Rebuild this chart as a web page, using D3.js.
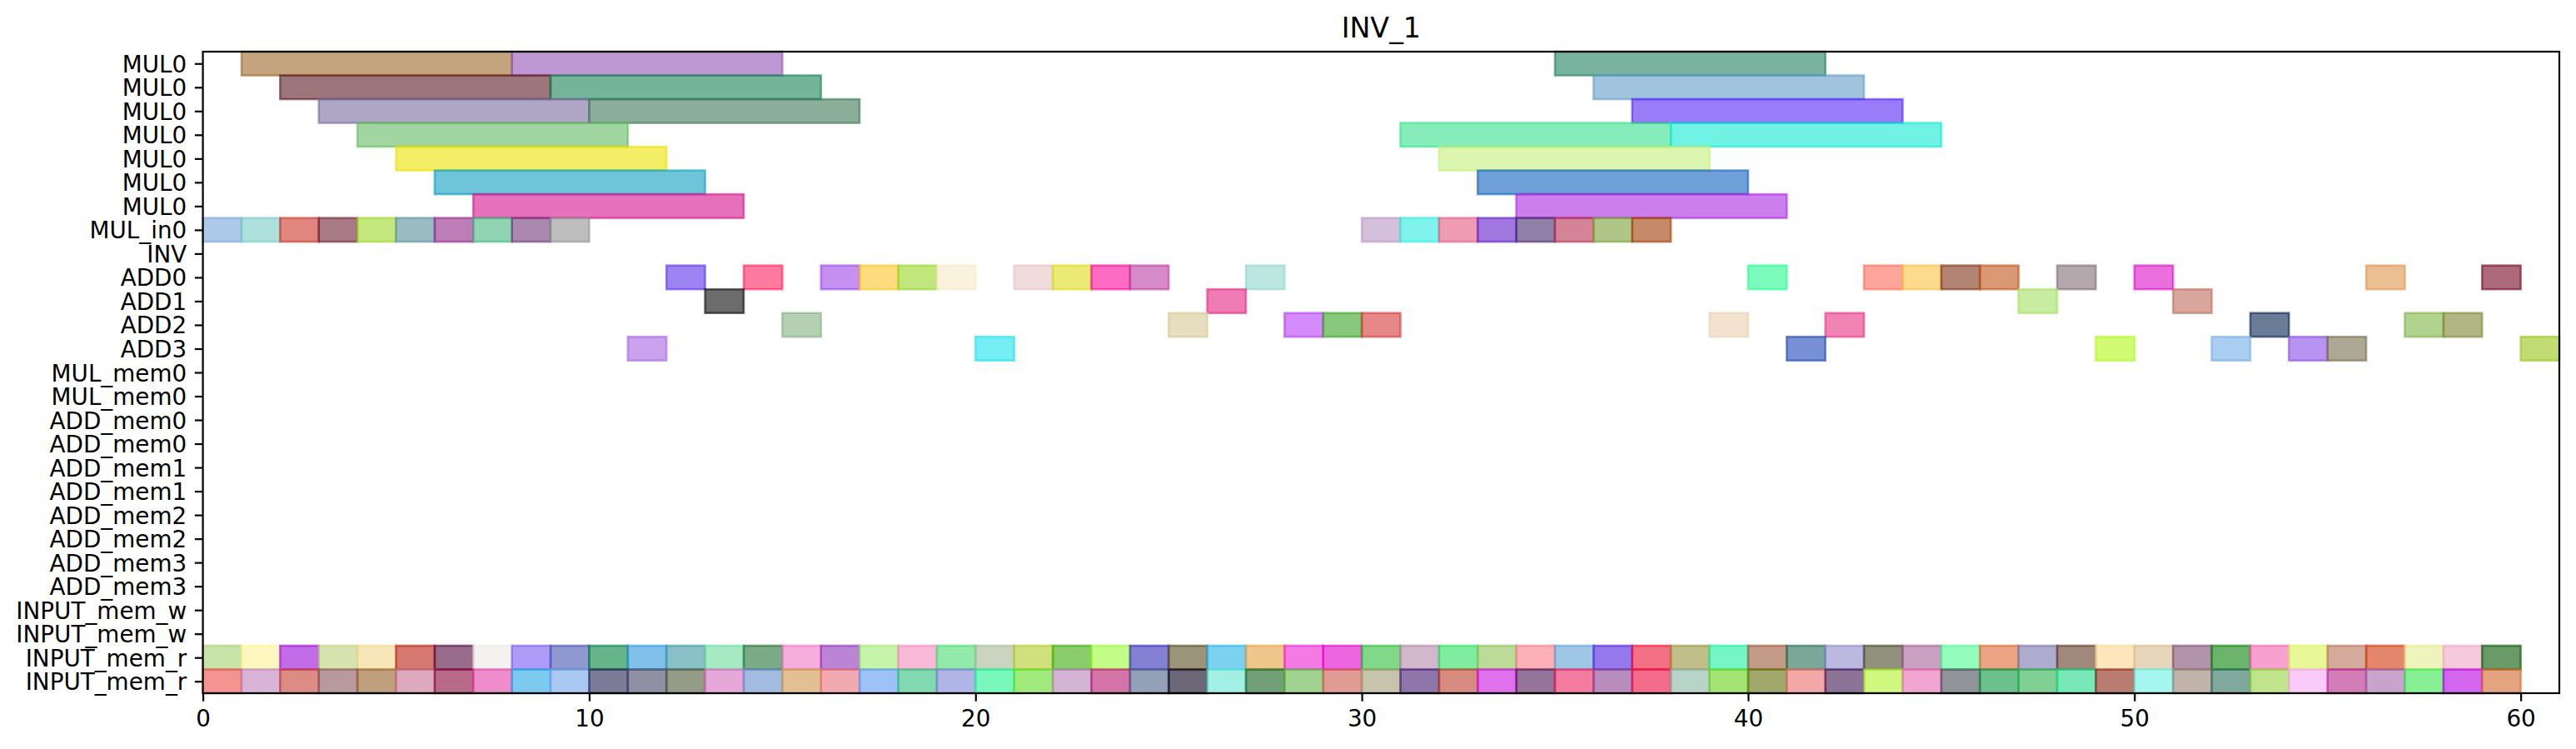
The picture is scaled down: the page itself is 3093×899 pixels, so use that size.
<!DOCTYPE html>
<html>
<head>
<meta charset="utf-8">
<script src="https://cdn.jsdelivr.net/npm/d3@7"></script>
<style>
  body { margin: 0; background: #fff; }
  svg { display: block; font-family: "DejaVu Sans", sans-serif; }
</style>
</head>
<body>
<div id="chart"></div>
<script>
// row labels, top to bottom
var rowLabels = ["MUL0", "MUL0", "MUL0", "MUL0", "MUL0", "MUL0", "MUL0", "MUL_in0", "INV",
  "ADD0", "ADD1", "ADD2", "ADD3", "MUL_mem0", "MUL_mem0", "ADD_mem0", "ADD_mem0",
  "ADD_mem1", "ADD_mem1", "ADD_mem2", "ADD_mem2", "ADD_mem3", "ADD_mem3",
  "INPUT_mem_w", "INPUT_mem_w", "INPUT_mem_r", "INPUT_mem_r"];

var xTicks = [0, 10, 20, 30, 40, 50, 60];

// MUL0 rows: every op lasts 7 steps
var mulLength = 7;
var mulStarts = [[1, 8, 35], [2, 9, 36], [3, 10, 37], [4, 31, 38], [5, 32], [6, 33], [7, 34]];
var mulColors = [
  ["#c4a47e", "#be98d2", "#7ab2a0"],
  ["#9c767a", "#74b498", "#a0c4de"],
  ["#aea6c4", "#8aae9a", "#987cf8"],
  ["#a2d6a0", "#86ecba", "#70f2e4"],
  ["#f4ee64", "#dcf6b0"],
  ["#6ec4d8", "#70a0d8"],
  ["#e670ba", "#cc7eec"]
];

// single step rows
var mulInStarts = [0, 1, 2, 3, 4, 5, 6, 7, 8, 9, 30, 31, 32, 33, 34, 35, 36, 37];
var mulInColors = ["#aecaea", "#aee0dc", "#e0867e", "#a87a86", "#c4e87e", "#9cbcc4", "#be7eb8", "#90d4b4", "#aa88b0", "#bebebe",
  "#d4c0da", "#80f4ec", "#f09cb4", "#a078e0", "#9080a8", "#d48496", "#b0c688", "#c68a68"];

var add0Starts = [12, 14, 16, 17, 18, 19, 21, 22, 23, 24, 27, 40, 43, 44, 45, 46, 48, 50, 56, 59];
var add0Colors = ["#9e84f2", "#fe7aa0", "#c690f2", "#fcdc7c", "#c0e67c", "#faf2dc", "#f0dcdc", "#eaea74", "#fc6cc4", "#d68ac8",
  "#bce6e0", "#7cfcbc", "#fea69c", "#fcda8e", "#b28474", "#da9874", "#b4a8ac", "#ea6ede", "#ecbe94", "#ac6a7a"];

var add1Starts = [13, 26, 47, 51];
var add1Colors = ["#6c6c6c", "#f07cb4", "#c8eca0", "#d8a69c"];

var add2Starts = [15, 25, 28, 29, 30, 39, 42, 53, 57, 58];
var add2Colors = ["#b6d0b4", "#e6debe", "#d48af8", "#88c87c", "#e68888", "#f4e2d0", "#f084b4", "#6a7c96", "#b2d290", "#b2b684"];

var add3Starts = [11, 20, 41, 49, 52, 54, 55, 60];
var add3Colors = ["#caa2ee", "#74eef4", "#7890d4", "#d0fc74", "#aacef2", "#b894f0", "#aca894", "#c2dc74"];

var inputReadStarts = [0, 1, 2, 3, 4, 5, 6, 7, 8, 9, 10, 11, 12, 13, 14, 15, 16, 17, 18, 19,
  20, 21, 22, 23, 24, 25, 26, 27, 28, 29, 30, 31, 32, 33, 34, 35, 36, 37, 38, 39,
  40, 41, 42, 43, 44, 45, 46, 47, 48, 49, 50, 51, 52, 53, 54, 55, 56, 57, 58, 59];
var inputReadAColors = ["#c8e4a8", "#fef8c0", "#c46ce8", "#d8e4b0", "#f6e6b8", "#d47870", "#9a6c8c", "#f4f2ee", "#ae9cf6", "#9098d0",
  "#66b48a", "#80c0ea", "#8ac0c8", "#a6eac4", "#7aaa86", "#f6aedc", "#bc84d4", "#c6f4aa", "#f8b8d8", "#92eaaa",
  "#cad4c0", "#d0e07c", "#88cc6c", "#c4fc88", "#8480d4", "#9c9478", "#7cd0f0", "#eec68c", "#f47ae4", "#ec64e0",
  "#80d888", "#d2b8cc", "#80eca0", "#bcda98", "#fcb0b8", "#a0c6e6", "#9678ec", "#f47084", "#c2be8a", "#76f6c6",
  "#c49a88", "#7aa898", "#bcb8e0", "#90907c", "#c8a0c0", "#94fcbc", "#eaa484", "#aeacce", "#a0887c", "#fee6bc",
  "#e6d6bc", "#b294aa", "#6cb46c", "#f8a0d0", "#e8f898", "#d4aa9c", "#e4866c", "#eef4bc", "#f6cadc", "#6a9a68"];
var inputReadBColors = ["#f49490", "#d8b4d8", "#dc8c84", "#b89a9c", "#bea07e", "#dcaabc", "#b86a88", "#ee8ccc", "#7ccaf0", "#aac8f2",
  "#7c7c98", "#9090a4", "#949c88", "#e6a8d8", "#a2bce0", "#e2c094", "#f0aab0", "#9cc2f8", "#82d8b0", "#b0b4e6",
  "#78f8bc", "#a0ea7c", "#d4b4d4", "#d474a8", "#94a0b8", "#6c6878", "#a2f0e4", "#72a076", "#a0d290", "#e09c94",
  "#c6c4ac", "#8e76aa", "#d88c80", "#e070ec", "#947498", "#f47ca0", "#b88cbc", "#f46c8c", "#b8d4c8", "#a4e474",
  "#a0a86c", "#f2a8a4", "#8c7498", "#d0f880", "#f0a6d0", "#909498", "#6cc08c", "#80d094", "#78e8b8", "#b87c70",
  "#a6f6f0", "#c0b4aa", "#80a89c", "#c0e48c", "#facaf8", "#d27cb8", "#c8a4cc", "#88f094", "#d45ef0", "#e4a480"];

// ---- layout (dpi 200 look) ----
var width = 3093, height = 899;
var margin = {left: 243.6, right: 3073, top: 62, bottom: 832};
var alpha = 0.6;
var fontPx = 27.8;

// collect bars: {row, start, len, color}
var bars = [];
function addRow(row, starts, colors, len) {
  starts.forEach(function(s, i) {
    bars.push({row: row, start: s, len: len, color: colors[i]});
  });
}
mulStarts.forEach(function(st, r) { addRow(r, st, mulColors[r], mulLength); });
addRow(7, mulInStarts, mulInColors, 1);
addRow(9, add0Starts, add0Colors, 1);
addRow(10, add1Starts, add1Colors, 1);
addRow(11, add2Starts, add2Colors, 1);
addRow(12, add3Starts, add3Colors, 1);
addRow(25, inputReadStarts, inputReadAColors, 1);
addRow(26, inputReadStarts, inputReadBColors, 1);

function baseColor(hex) {
  var c = d3.rgb(hex);
  function un(v) { return Math.max(0, Math.min(255, Math.round((v - 255 * (1 - alpha)) / alpha))); }
  return d3.rgb(un(c.r), un(c.g), un(c.b)).formatHex();
}

var x = d3.scaleLinear().domain([0, 61]).range([margin.left, margin.right]);
var y = d3.scaleLinear().domain([-0.5, rowLabels.length - 0.5]).range([margin.top, margin.bottom]);
var rowH = y(1) - y(0);

var svg = d3.select("#chart").append("svg")
    .attr("width", width)
    .attr("height", height);

svg.append("g")
    .selectAll("rect")
    .data(bars)
    .enter().append("rect")
    .attr("x", function(d) { return x(d.start); })
    .attr("y", function(d) { return y(d.row) - rowH / 2; })
    .attr("width", function(d) { return x(d.start + d.len) - x(d.start); })
    .attr("height", rowH)
    .attr("fill", function(d) { return baseColor(d.color); })
    .attr("fill-opacity", alpha)
    .attr("stroke", function(d) { return baseColor(d.color); })
    .attr("stroke-opacity", alpha)
    .attr("stroke-width", 2.6);

// axes
var xAxis = d3.axisBottom(x).tickValues(xTicks).tickSize(9.7).tickSizeOuter(0).tickPadding(10.6);
var yAxis = d3.axisLeft(y).tickValues(d3.range(rowLabels.length))
    .tickFormat(function(i) { return rowLabels[i]; })
    .tickSize(9.7).tickSizeOuter(0).tickPadding(9.7);

var gx = svg.append("g").attr("transform", "translate(0," + margin.bottom + ")").call(xAxis);
var gy = svg.append("g").attr("transform", "translate(" + margin.left + ",0)").call(yAxis);

[gx, gy].forEach(function(g) {
  g.select(".domain").remove();
  g.selectAll(".tick line").attr("stroke", "#000").attr("stroke-width", 2.2);
  g.selectAll(".tick text")
      .attr("fill", "#000")
      .style("font-family", "'DejaVu Sans', sans-serif")
      .style("font-size", fontPx + "px");
});
gy.selectAll(".tick text").attr("dy", "0.36em");

// frame
svg.append("rect")
    .attr("x", margin.left)
    .attr("y", margin.top)
    .attr("width", margin.right - margin.left)
    .attr("height", margin.bottom - margin.top)
    .attr("fill", "none")
    .attr("stroke", "#000")
    .attr("stroke-width", 2.2);

svg.append("text")
    .attr("x", (margin.left + margin.right) / 2)
    .attr("y", 45.3)
    .attr("text-anchor", "middle")
    .style("font-size", "33.3px")
    .text("INV_1");
</script>
</body>
</html>
